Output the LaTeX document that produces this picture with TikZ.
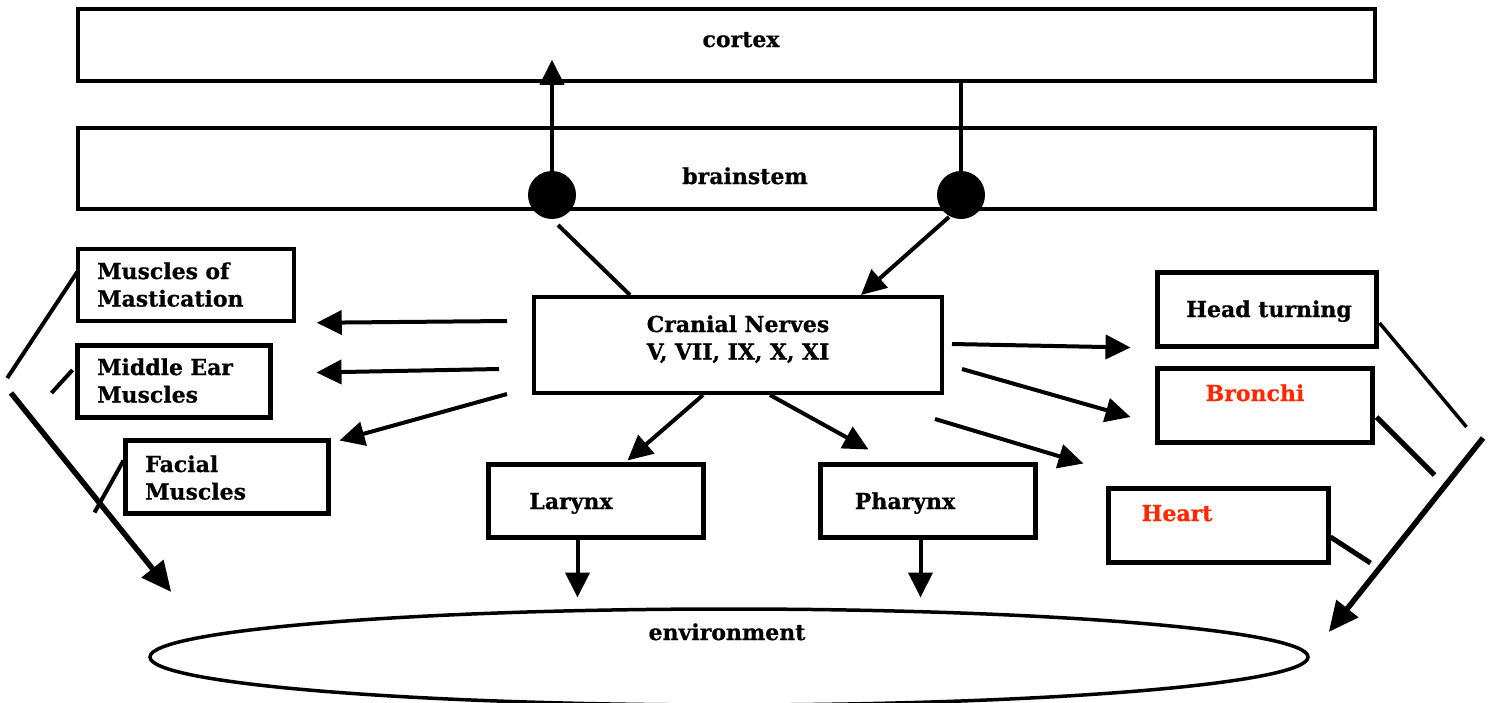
\documentclass[tikz,border=0pt]{standalone}
\usepackage{fontspec}
\setmainfont{DejaVu Serif}[BoldFeatures={FakeBold=0.6}]
\usetikzlibrary{arrows.meta,shapes.geometric,calc}
\definecolor{lblred}{RGB}{255,40,0}
\begin{document}
\begin{tikzpicture}[x=1pt,y=-1pt,
  box/.style={draw, line width=4pt, rectangle, inner sep=0pt},
  thickbox/.style={box, line width=5pt},
  lbl/.style={inner sep=0pt, font=\fontsize{22}{27.5}\selectfont\bfseries},
  wire/.style={line width=4pt},
  arr/.style={wire, -{Triangle[length=25pt,width=24pt]}},
  bigarr/.style={line width=5.5pt, -{Triangle[length=30pt,width=27pt]}},
  soma/.style={circle, fill=black, minimum size=48pt, inner sep=0pt}]
\useasboundingbox (0,0) rectangle (1493,702);
\fill[white] (0,0) rectangle (1493,702);

% central levels
\node[box, line width=3.5pt, minimum width=1297pt, minimum height=72pt] (cortex) at (726.5,45) {};
\node[box, line width=3.5pt, minimum width=1297pt, minimum height=81pt] (stem) at (726.5,168.5) {};
\node[box, minimum width=408pt, minimum height=96pt] (cn) at (738,345) {};

% left targets
\node[box, line width=3.5pt, minimum width=216pt, minimum height=72pt] (mast) at (186,285) {};
\node[thickbox, minimum width=193pt, minimum height=72pt] (ear) at (173.5,381) {};
\node[thickbox, minimum width=203pt, minimum height=73pt] (facial) at (226.5,476.5) {};

% right targets
\node[thickbox, minimum width=219pt, minimum height=74pt] (head) at (1266.5,309) {};
\node[thickbox, minimum width=215pt, minimum height=74pt] (bron) at (1264.5,405) {};
\node[thickbox, minimum width=220pt, minimum height=74pt] (heart) at (1218,525) {};

% lower targets
\node[thickbox, minimum width=215pt, minimum height=73pt] (lar) at (595.5,500.5) {};
\node[thickbox, minimum width=215pt, minimum height=73pt] (phar) at (927.5,500.5) {};

\node[ellipse, draw, line width=3.5pt, minimum width=1158pt, minimum height=96pt, inner sep=0pt] (env) at (729,657) {};

% nuclei in the brainstem
\node[soma] (dotL) at (552,195) {};
\node[soma] (dotR) at (961,195) {};

% labels
\node[lbl, anchor=base] (cortexT) at (741,47) {cortex};
\node[lbl, anchor=base] (stemT) at (745,184) {brainstem};
\node[lbl, anchor=base, text width=330pt, align=center] (cnT) at (738,332) {Cranial Nerves\\V, VII, IX, X, XI};
\node[lbl, anchor=base west, text width=200pt, align=left] (mastT) at (97,279) {Muscles of\\Mastication};
\node[lbl, anchor=base west, text width=170pt, align=left] (earT) at (97,375) {Middle Ear\\Muscles};
\node[lbl, anchor=base west, text width=170pt, align=left] (facT) at (145,472) {Facial\\Muscles};
\node[lbl, anchor=base] (headT) at (1269,317) {Head turning};
\node[lbl, anchor=base, text=lblred] (bronT) at (1255,401) {Bronchi};
\node[lbl, anchor=base, text=lblred] (heartT) at (1177,521) {Heart};
\node[lbl, anchor=base] (larT) at (571,509) {Larynx};
\node[lbl, anchor=base] (pharT) at (905,509) {Pharynx};
\node[lbl, anchor=base] (envT) at (727,640) {environment};

% ascending and descending pathways
\draw[arr] (dotL.north) -- ($(cortex.south -| dotL)+(0,-23)$);
\draw[wire] (dotR.north) -- (cortex.south -| dotR);
\draw[wire] ($(dotL)+(6,30)$) -- ($(cn.north west)+(98,0)$);
\draw[arr] ($(dotR)+(-12,22)$) -- ($(cn.north west)+(329,0)$);

% cranial nerve outputs, left
\draw[arr] ($(cn.west)+(-25,-24)$) -- ($(mast.south east)+(21,0)$);
\draw[arr] ($(cn.west)+(-33,24)$) -- ($(ear.north east)+(44,30)$);
\draw[arr] ($(cn.south west)+(-25,-1)$) -- ($(facial.north east)+(9,3)$);

% cranial nerve outputs, right
\draw[arr] ($(cn.east)+(8,-1)$) -- ($(head.south west)+(-24,-1)$);
\draw[arr] ($(cn.east)+(18,24)$) -- ($(bron.west)+(-24,12)$);
\draw[arr] ($(cn.south east)+(-9,24)$) -- ($(heart.north west)+(-22,-22)$);

% cranial nerve outputs, below
\draw[arr] ($(cn.south west)+(171,0)$) -- ($(lar.north)+(32,-1)$);
\draw[arr] ($(cn.south west)+(238,0)$) -- ($(phar.north west)+(51,-12)$);
\draw[arr] ($(lar.south)+(-18,0)$) -- ($(lar.south)+(-18,58)$);
\draw[arr] ($(phar.south)+(-7,0)$) -- ($(phar.south)+(-7,58)$);

% left convergence onto the environment
\coordinate (lfork) at (11,393);
\draw[wire] ($(mast.west)+(1,-13)$) -- ($(mast.west)+(-69,93)$);
\draw[wire] ($(ear.west)+(-2,-11)$) -- ($(ear.west)+(-23,12)$);
\draw[wire] ($(facial.west)+(1,-16)$) -- ($(facial.west)+(-28,36)$);
\draw[bigarr] (lfork) -- ($(env.west)+(23,-65)$);

% right convergence onto the environment
\coordinate (rfork) at (1483,438);
\draw[wire, line width=3.5pt] ($(head.east)+(1,14)$) -- ($(head.east)+(88,118)$);
\draw[wire, line width=5pt] ($(bron.east)+(2,12)$) -- ($(bron.east)+(60,70)$);
\draw[wire, line width=5pt] ($(heart.east)+(0,12)$) -- ($(heart.east)+(40,38)$);
\draw[bigarr] (rfork) -- ($(env.east)+(19,-25)$);
\end{tikzpicture}
\end{document}
